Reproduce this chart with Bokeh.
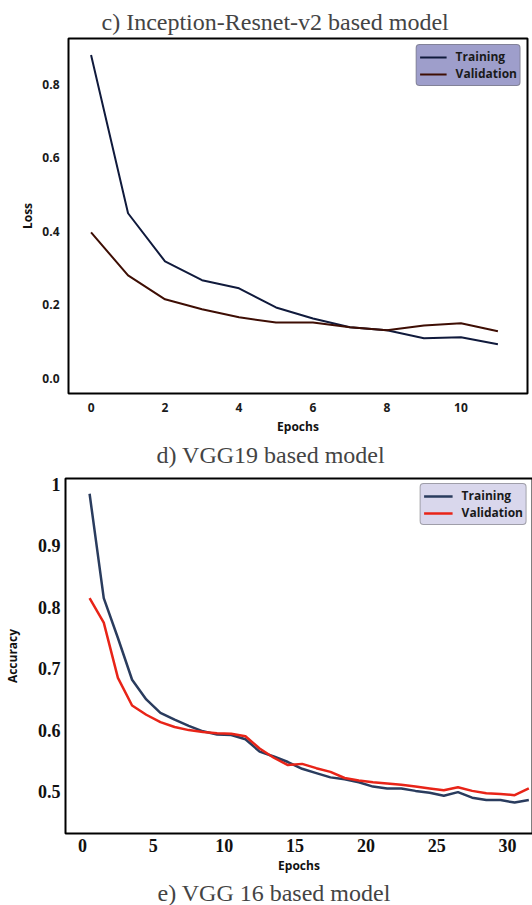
from bokeh.plotting import figure
from bokeh.models import Range1d, FixedTicker, PrintfTickFormatter, Title, Legend
from bokeh.layouts import column
from bokeh.embed import file_html
from bokeh.resources import INLINE

# ---------------- data ----------------
# c) Inception-Resnet-v2 based model (loss)
ir_epochs = [0, 1, 2, 3, 4, 5, 6, 7, 8, 9, 10, 11]
ir_train_loss = [0.879, 0.449, 0.318, 0.267, 0.245, 0.193, 0.163, 0.139, 0.131, 0.109, 0.112, 0.093]
ir_val_loss = [0.397, 0.280, 0.215, 0.188, 0.166, 0.152, 0.152, 0.139, 0.131, 0.144, 0.150, 0.128]
ir_xticks = [0, 2, 4, 6, 8, 10]
ir_yticks = [0.0, 0.2, 0.4, 0.6, 0.8]

# d) VGG19 based model (accuracy)
vgg_epochs = [0.5, 1.5, 2.5, 3.5, 4.5, 5.5, 6.5, 7.5, 8.5, 9.5, 10.5, 11.5, 12.5, 13.5, 14.5, 15.5,
              16.5, 17.5, 18.5, 19.5, 20.5, 21.5, 22.5, 23.5, 24.5, 25.5, 26.5, 27.5, 28.5, 29.5, 30.5, 31.5]
vgg_train_acc = [0.985, 0.815, 0.750, 0.682, 0.650, 0.628, 0.617, 0.607, 0.598, 0.593, 0.592, 0.585,
                 0.565, 0.557, 0.548, 0.537, 0.530, 0.523, 0.520, 0.515, 0.508, 0.505, 0.505, 0.501,
                 0.498, 0.493, 0.499, 0.490, 0.486, 0.486, 0.482, 0.486]
vgg_val_acc = [0.815, 0.775, 0.685, 0.640, 0.625, 0.613, 0.605, 0.600, 0.597, 0.595, 0.594, 0.590,
               0.570, 0.555, 0.543, 0.545, 0.538, 0.532, 0.522, 0.518, 0.515, 0.513, 0.511, 0.508,
               0.505, 0.502, 0.507, 0.501, 0.497, 0.496, 0.494, 0.505]
vgg_xticks = [0, 5, 10, 15, 20, 25, 30]
vgg_yticks = [0.5, 0.6, 0.7, 0.8, 0.9, 1.0]

SANS = "Open Sans"
SERIF = "Liberation Serif"


def style(p):
    p.outline_line_color = "black"
    p.outline_line_width = 2
    p.outline_line_alpha = 1
    p.xgrid.grid_line_color = None
    p.ygrid.grid_line_color = None
    for ax in (p.xaxis[0], p.yaxis[0]):
        ax.axis_line_color = None
        ax.major_tick_line_color = None
        ax.minor_tick_line_color = None
        ax.major_tick_out = 0
        ax.axis_label_text_font = SANS
        ax.axis_label_text_font_style = "bold"
        ax.axis_label_text_font_size = "12px"
        ax.axis_label_text_color = "#111111"


def style_legend(lg, bg, glyph_w, margin):
    lg.location = "top_right"
    lg.margin = margin
    lg.padding = 3
    lg.spacing = 0
    lg.glyph_width = glyph_w
    lg.glyph_height = 14
    lg.label_height = 13
    lg.label_standoff = 9
    lg.label_text_font = SANS
    lg.label_text_font_style = "bold"
    lg.label_text_font_size = "12px"
    lg.label_text_color = "#1a1a1a"
    lg.background_fill_color = bg
    lg.background_fill_alpha = 1
    lg.border_line_color = "#666666"
    lg.border_line_width = 1
    if "border_radius" in Legend.properties():
        lg.border_radius = 4


# ---------------- top chart ----------------
p1 = figure(frame_width=459, frame_height=355,
            x_range=Range1d(-0.61, 11.8), y_range=Range1d(-0.041, 0.924),
            min_border_left=68, min_border_right=5, min_border_top=38, min_border_bottom=75,
            output_backend="svg", toolbar_location=None)
p1.title.text = "c) Inception-Resnet-v2 based model"
p1.title.text_font = SERIF
p1.title.text_font_style = "normal"
p1.title.text_font_size = "24px"
p1.title.align = "left"
p1.title.offset = 33
p1.title.standoff = 8

p1.line(ir_epochs, ir_train_loss, line_color="#101a3c", line_width=2, legend_label="Training")
p1.line(ir_epochs, ir_val_loss, line_color="#3e0e04", line_width=2, legend_label="Validation")
style(p1)
p1.xaxis.axis_label = "Epochs"
p1.yaxis.axis_label = "Loss"
p1.xaxis.ticker = FixedTicker(ticks=ir_xticks)
p1.yaxis.ticker = FixedTicker(ticks=ir_yticks)
p1.yaxis.formatter = PrintfTickFormatter(format="%.1f")
for ax in (p1.xaxis[0], p1.yaxis[0]):
    ax.major_label_text_font = SANS
    ax.major_label_text_font_style = "bold"
    ax.major_label_text_font_size = "12px"
    ax.major_label_text_color = "#1a1a1a"
    ax.major_label_standoff = 9
    ax.axis_label_standoff = 3
style_legend(p1.legend[0], "#9e9ecb", 27, 6)

cap_d = Title(text="d) VGG19 based model", text_font=SERIF, text_font_style="normal",
              text_font_size="24px", align="left", offset=88, standoff=4)
p1.add_layout(cap_d, "below")

# ---------------- bottom chart ----------------
p2 = figure(frame_width=467, frame_height=355,
            x_range=Range1d(-1.2, 31.76), y_range=Range1d(0.4316, 1.0098),
            min_border_left=63, min_border_right=2, min_border_top=9, min_border_bottom=72,
            output_backend="svg", toolbar_location=None)
p2.line(vgg_epochs, vgg_train_acc, line_color="#2a3c5e", line_width=2.5, legend_label="Training")
p2.line(vgg_epochs, vgg_val_acc, line_color="#e82418", line_width=2.5, legend_label="Validation")
style(p2)
p2.xaxis.axis_label = "Epochs"
p2.yaxis.axis_label = "Accuracy"
p2.xaxis.ticker = FixedTicker(ticks=vgg_xticks)
p2.yaxis.ticker = FixedTicker(ticks=vgg_yticks)
p2.yaxis.formatter = PrintfTickFormatter(format="%.1f")
p2.yaxis.major_label_overrides = {1.0: "1"}
for ax in (p2.xaxis[0], p2.yaxis[0]):
    ax.major_label_text_font = SERIF
    ax.major_label_text_font_style = "bold"
    ax.major_label_text_font_size = "18px"
    ax.major_label_text_color = "#111111"
    ax.major_label_standoff = 5
p2.xaxis.axis_label_standoff = 2
p2.yaxis.axis_label_standoff = 14
style_legend(p2.legend[0], "#d9d7ec", 29, 5)

cap_e = Title(text="e) VGG 16 based model", text_font=SERIF, text_font_style="normal",
              text_font_size="24px", align="left", offset=92, standoff=2)
p2.add_layout(cap_e, "below")

layout = column(column(p1), column(p2), spacing=0)
open("out.html", "w").write(file_html(layout, INLINE))
